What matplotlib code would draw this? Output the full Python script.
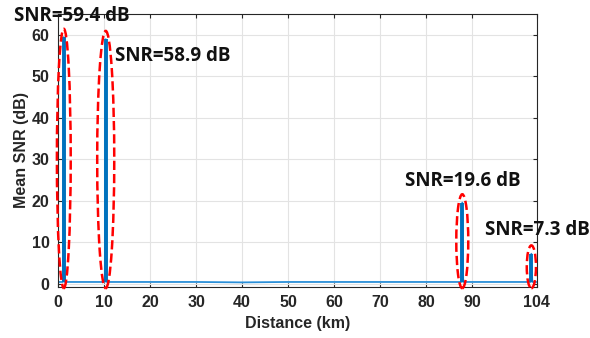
import matplotlib.pyplot as plt
from matplotlib.patches import Ellipse

# measured mean SNR along the fibre (baseline ~0.5 dB, four reflection peaks)
distance = [0, 1.1, 1.3, 1.5, 5, 10.2, 10.4, 10.6, 20, 30, 40, 50, 60, 70, 80,
            87.6, 87.8, 88.0, 95, 102.6, 102.8, 103.0, 104]
snr = [0.5, 0.5, 59.4, 0.5, 0.5, 0.5, 58.9, 0.5, 0.5, 0.5, 0.4, 0.5, 0.5, 0.5, 0.5,
       0.5, 19.6, 0.5, 0.5, 0.5, 7.3, 0.5, 0.5]

peak_km = [1.3, 10.4, 87.8, 102.8]
peak_snr = [59.4, 58.9, 19.6, 7.3]
peak_text = ['SNR=59.4 dB', 'SNR=58.9 dB', 'SNR=19.6 dB', 'SNR=7.3 dB']

xticks = [0, 10, 20, 30, 40, 50, 60, 70, 80, 90, 104]
yticks = [0, 10, 20, 30, 40, 50, 60]

fig = plt.figure(figsize=(5.9, 3.38), dpi=100)
ax = fig.add_axes([0.098, 0.151, 0.812, 0.808])

ax.plot(distance, snr, color='#2a8fd8', lw=1.3)
ax.vlines(peak_km, 0.5, peak_snr, color='#0072BD', lw=2.8)

ell_w = [3.0, 3.7, 2.6, 2.0]
for x, p, w in zip(peak_km, peak_snr, ell_w):
    top = p + 2.0
    bot = -1.0
    e = Ellipse((x, (top + bot) / 2), w, top - bot, fill=False, ec='red',
                ls='--', lw=1.8, clip_on=False, zorder=5)
    ax.add_patch(e)

txt_pos = [(0.024, 0.952), (0.195, 0.835), (0.686, 0.465), (0.822, 0.32)]
for (fx, fy), t in zip(txt_pos, peak_text):
    fig.text(fx, fy, t, fontsize=13.5, fontweight='bold', color='#111111',
             family='Open Sans', va='center', ha='left')

ax.set_xlim(0, 104)
ax.set_ylim(-0.7, 65)
ax.set_xticks(xticks)
ax.set_yticks(yticks)
ax.grid(True, color='#e3e3e3', lw=0.8)
ax.set_axisbelow(True)
ax.tick_params(direction='in', top=True, right=True, colors='#262626',
               labelsize=11.5, length=3, pad=6)
for lab in ax.get_xticklabels() + ax.get_yticklabels():
    lab.set_fontweight('bold')
    lab.set_family('Liberation Sans')
for s in ax.spines.values():
    s.set_color('#262626')
    s.set_linewidth(0.8)

ax.set_xlabel('Distance (km)', fontsize=11.5, fontweight='bold', color='#262626',
              labelpad=4, family='Liberation Sans')
ax.set_ylabel('Mean SNR (dB)', fontsize=11.5, fontweight='bold', color='#262626',
              labelpad=2, family='Liberation Sans')

fig.savefig('out.png', dpi=100)
